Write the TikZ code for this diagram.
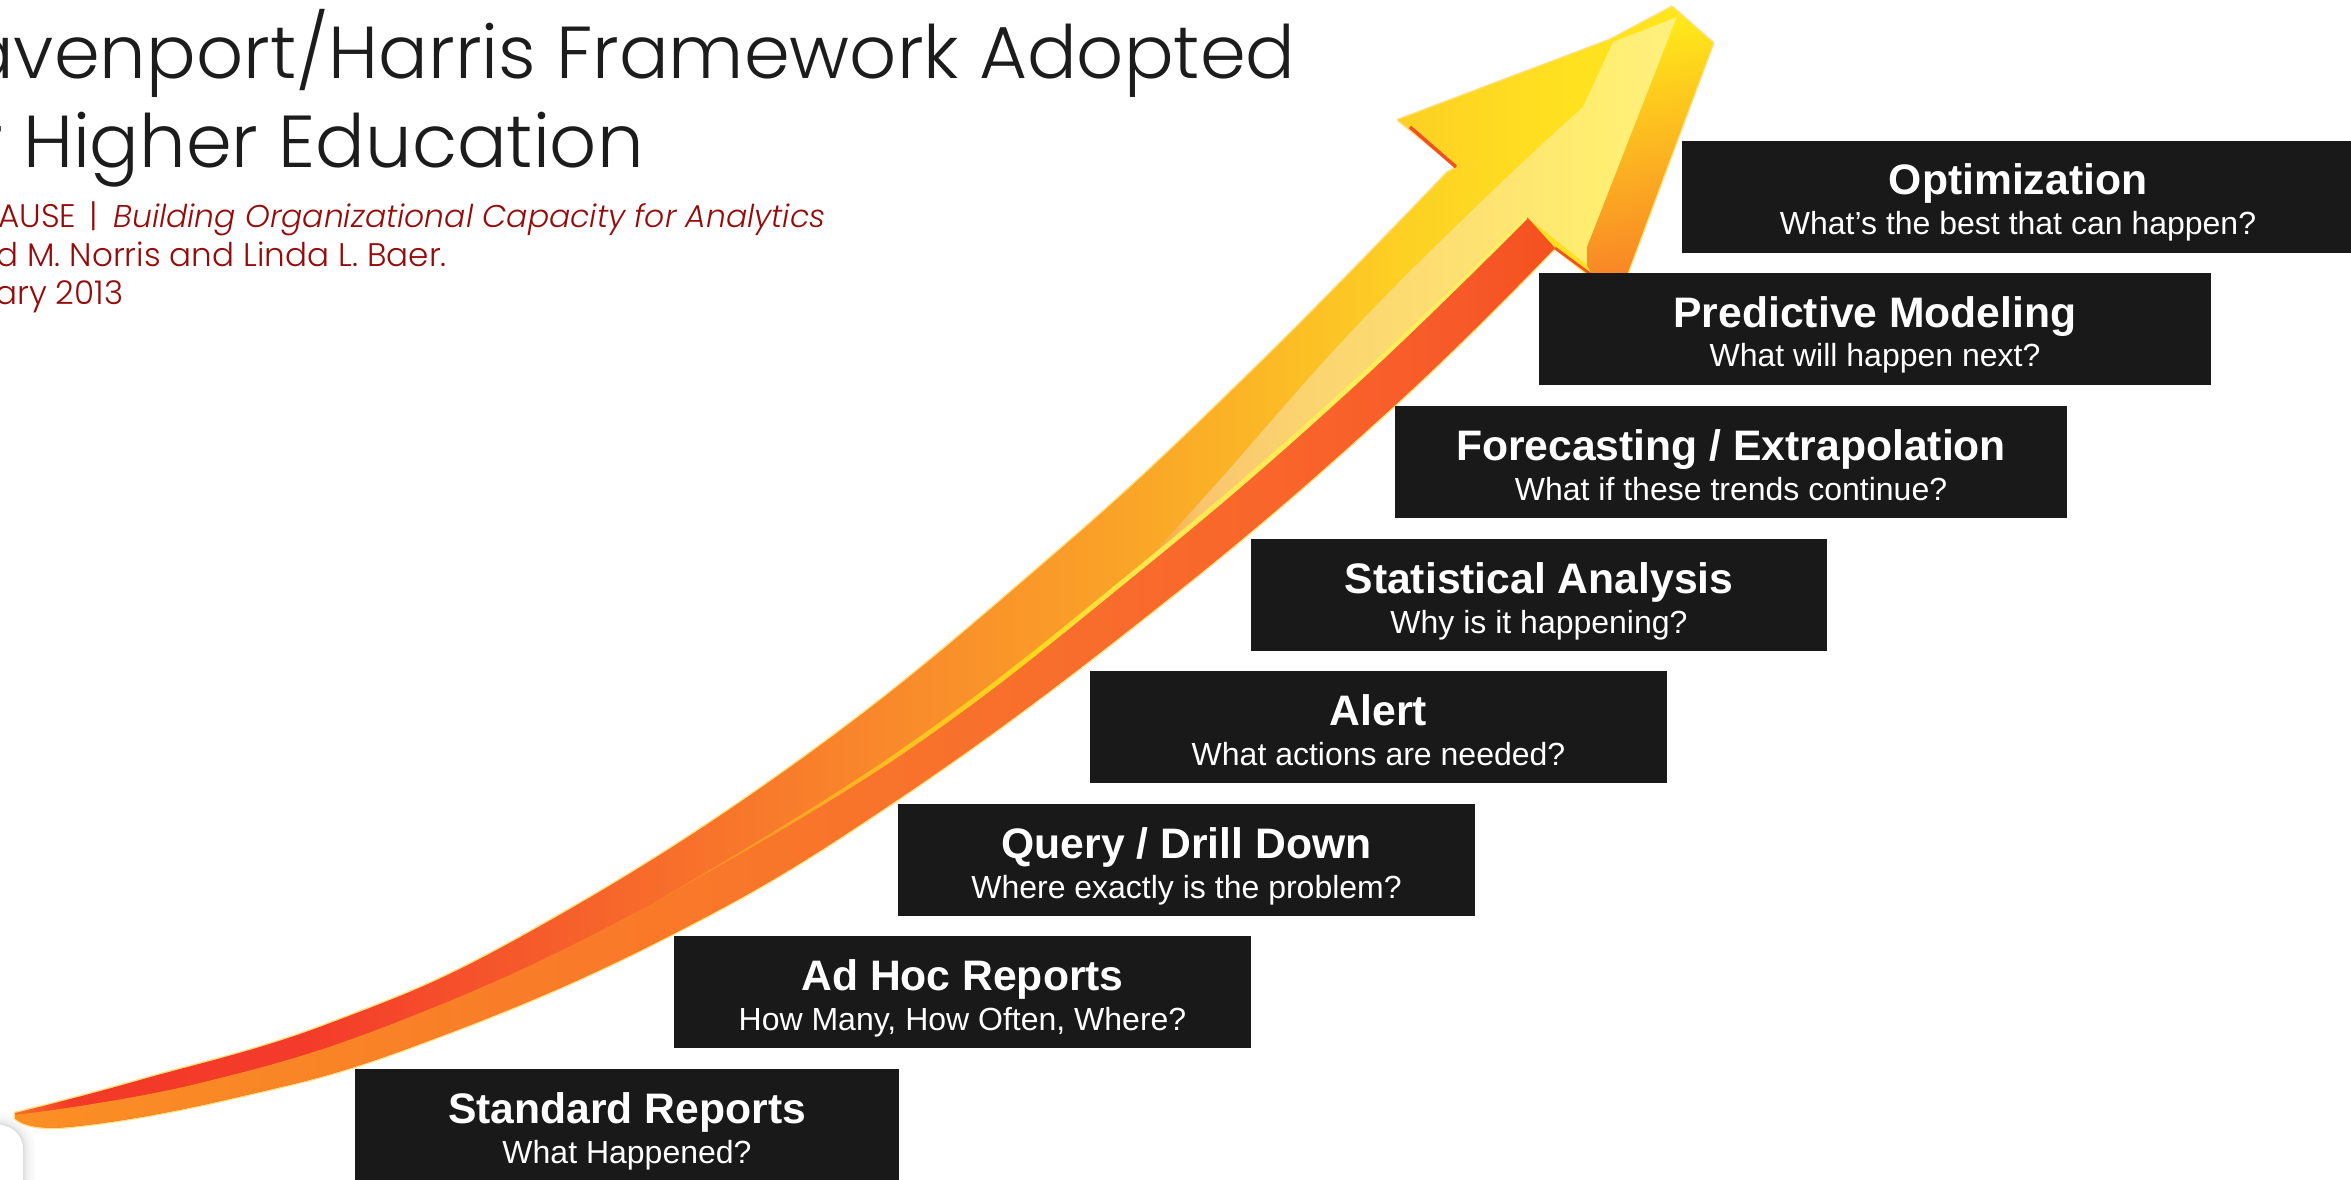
\documentclass[tikz,border=0pt]{standalone}
\usepackage{fontspec}
\setmainfont{Liberation Sans}
\newfontfamily\gothic[ItalicFont={Poppins Light Italic}]{Poppins Light}
\definecolor{boxblack}{HTML}{1A1919}
\definecolor{titleink}{HTML}{1C1C1C}
\definecolor{subink}{HTML}{960A0A}
\definecolor{fringe}{HTML}{FFDF80}
\definecolor{uA}{HTML}{F8702A}\definecolor{uB}{HTML}{F33A28}\definecolor{uC}{HTML}{F43A2A}
\definecolor{uD}{HTML}{F5562B}\definecolor{uE}{HTML}{F8722B}\definecolor{uF}{HTML}{F98A2B}
\definecolor{uG}{HTML}{FAA028}\definecolor{uH}{HTML}{FBB626}\definecolor{uI}{HTML}{FDD024}
\definecolor{uJ}{HTML}{FFE020}\definecolor{uK}{HTML}{FFE81A}
\definecolor{lA}{HTML}{FB8F24}\definecolor{lB}{HTML}{F98526}\definecolor{lC}{HTML}{F97D28}
\definecolor{lD}{HTML}{F8702C}\definecolor{lE}{HTML}{F9642B}\definecolor{lF}{HTML}{F75A29}
\definecolor{lG}{HTML}{F4501F}
\definecolor{hA}{HTML}{FBA63A}\definecolor{hB}{HTML}{F9C56F}\definecolor{hC}{HTML}{FBD36F}
\definecolor{hD}{HTML}{FDDF72}\definecolor{hE}{HTML}{FFEE70}\definecolor{hF}{HTML}{FFF080}
\definecolor{sA}{HTML}{F97D28}\definecolor{sB}{HTML}{FB9A24}\definecolor{sC}{HTML}{FFC020}
\definecolor{sD}{HTML}{FFD81E}\definecolor{sE}{HTML}{FFE850}\definecolor{sF}{HTML}{FFF060}
\pgfdeclarehorizontalshading{upperband}{100bp}{color(0bp)=(uA);color(25.3bp)=(uA);color(26.5bp)=(uB);color(31.4bp)=(uC);color(35.6bp)=(uD);color(39.9bp)=(uE);color(44.1bp)=(uF);color(48.4bp)=(uG);color(51.6bp)=(uH);color(54.8bp)=(uI);color(58bp)=(uJ);color(61.6bp)=(uK);color(100bp)=(uK)}
\pgfdeclarehorizontalshading{lowerband}{100bp}{color(0bp)=(lA);color(25.3bp)=(lA);color(31.4bp)=(lB);color(35.6bp)=(lC);color(46.3bp)=(lD);color(52.6bp)=(lE);color(55.8bp)=(lF);color(58.2bp)=(lG);color(100bp)=(lG)}
\pgfdeclarehorizontalshading{paleband}{100bp}{color(0bp)=(hA);color(49.5bp)=(hA);color(50.5bp)=(hB);color(52.6bp)=(hC);color(55.8bp)=(hD);color(59bp)=(hE);color(60.7bp)=(hF);color(100bp)=(hF)}
\pgfdeclarehorizontalshading{seamband}{100bp}{color(0bp)=(sA);color(38bp)=(sA);color(41bp)=(sB);color(44.1bp)=(sC);color(46.9bp)=(sD);color(49.5bp)=(sE);color(56.9bp)=(sF);color(100bp)=(sF)}
\newcommand{\gradfill}[2]{\begin{scope}\clip #1;\shade[shading=#2] (0,0) rectangle (2351,1180);\end{scope}}
% one box: fixed height, two centred lines on fixed baselines
\newcommand{\steptext}[3]{\vbox to 84pt{\hsize=#1\parindent=0pt\parskip=0pt\offinterlineskip
  \hbox to \hsize{\hss\fontsize{32pt}{32pt}\selectfont\bfseries\rule{0pt}{40.5pt}\smash{#2}\hss}\vskip0pt
  \hbox to \hsize{\hss\fontsize{24pt}{24pt}\selectfont\rule[-13.5pt]{0pt}{43.5pt}#3\hss}\vss}}
\tikzset{
  stepbox/.style={fill=boxblack,text=white,inner sep=0pt,outer sep=0pt,anchor=north west},
  titletext/.style={anchor=base west,inner sep=0pt,text=titleink,font=\gothic\fontsize{55.2pt}{60pt}\selectfont},
  subtext/.style={anchor=base west,inner sep=0pt,text=subink,font=\gothic\fontsize{24.5pt}{28pt}\selectfont}
}
\begin{document}
\begin{tikzpicture}[x=0.75pt,y=-0.75pt]
\useasboundingbox (0,0) rectangle (2351,1180);
% panel corner with soft shadow, lower left
\foreach \w/\c in {24/2,18/3,13/5,9/7,5/10,2/14}{
  \draw[line width=\w*0.75pt,black!\c] (-5,1124) .. controls (12,1125) and (23,1134) .. (23,1150) -- (23,1185);
}
\fill[white] (-5,1124) .. controls (12,1125) and (23,1134) .. (23,1150) -- (23,1185) -- (-5,1185) -- cycle;
% arrow: fringe
\draw[fringe,line width=2.2pt,line join=round] plot[smooth,tension=.7] coordinates {(15,1113)(140,1080)(333,1022)(533,930)(800,760)(1050,558)(1250,373)(1447,173)} -- (1457,167) -- (1398,120) -- (1610,40) -- (1672,7) -- (1713,43) -- (1625,280) -- (1595,280) -- (1555,248) -- plot[smooth,tension=.7] coordinates {(1555,248)(1393,407)(1167,600)(900,798)(667,937)(417,1045)(233,1098)(67,1127)(15,1118)} -- cycle;
% arrow: upper band, whole outline
\gradfill{plot[smooth,tension=.7] coordinates {(15,1113)(140,1080)(333,1022)(533,930)(800,760)(1050,558)(1250,373)(1447,173)} -- (1457,167) -- (1398,120) -- (1610,40) -- (1672,7) -- (1713,43) -- (1625,280) -- (1595,280) -- (1555,248) -- plot[smooth,tension=.7] coordinates {(1555,248)(1393,407)(1167,600)(900,798)(667,937)(417,1045)(233,1098)(67,1127)(15,1118)} -- cycle}{upperband}
% arrow: lower band
\gradfill{plot[smooth,tension=.7] coordinates {(15,1115)(200,1083)(410,1017)(653,903)(900,753)(1140,568)(1350,387)(1527,217)} -- (1555,248) -- plot[smooth,tension=.7] coordinates {(1555,248)(1393,407)(1167,600)(900,798)(667,937)(417,1045)(233,1098)(67,1127)(15,1118)} -- cycle}{lowerband}
% arrow: pale highlight
\gradfill{plot[smooth,tension=.7] coordinates {(1140,568)(1217,483)(1350,333)(1483,200)(1583,107)} -- (1613,42) -- (1677,17) -- (1587,247) -- (1587,265) -- (1527,217) -- plot[smooth,tension=.7] coordinates {(1527,217)(1350,387)(1140,568)} -- cycle}{paleband}
% arrow: right facet
\shade[top color=uK,middle color=uH,bottom color=lB,shading angle=12] (1677,17) -- (1713,43) -- (1625,280) -- (1595,280) -- (1587,265) -- (1587,247) -- cycle;
% arrow: thin light seam, tapering out towards the tail
\gradfill{plot[smooth,tension=.7] coordinates {(653,903)(899,751)(1138.6,566)(1348.6,385)(1527,215)} -- plot[smooth,tension=.7] coordinates {(1527,219)(1351.4,389)(1141.4,570)(901,755)(653,903)} -- cycle}{seamband}
% arrow: red barb edges
\draw[lG,line width=2.6pt] (1410,127) -- (1456,167);
\draw[lG,line width=2pt] (1555,248) -- (1593,276);
% steps
\node[stepbox] (standard) at (355,1069) {\steptext{408pt}{Standard Reports}{What Happened?}};
\node[stepbox] (adhoc) at (674,936) {\steptext{432.75pt}{Ad Hoc Reports}{How Many, How Often, Where?}};
\node[stepbox] (query) at (898,804) {\steptext{432.75pt}{Query / Drill Down}{Where exactly is the problem?}};
\node[stepbox] (alert) at (1090,671) {\steptext{432.75pt}{Alert}{What actions are needed?}};
\node[stepbox] (stat) at (1251,539) {\steptext{432pt}{Statistical Analysis}{Why is it happening?}};
\node[stepbox] (fore) at (1395,406) {\steptext{504pt}{Forecasting / Extrapolation}{What if these trends continue?}};
\node[stepbox] (pred) at (1539,273) {\steptext{504pt}{Predictive Modeling}{What will happen next?}};
\node[stepbox] (opt) at (1682,141) {\steptext{504pt}{Optimization}{What’s the best that can happen?}};
% titles
\node[titletext] (t1) at (-36,79) {avenport/Harris Framework Adopted};
\node[titletext] (t2) at (-24,168) {r Higher Education};
\node[subtext] (s1) at (-2,228) {AUSE\hspace{3pt} | \hspace{5pt}{\fontsize{23.6pt}{28pt}\selectfont\itshape Building Organizational Capacity for Analytics}};
\node[subtext] (s2) at (-4,267) {d M. Norris and Linda L. Baer.};
\node[subtext] (s3) at (-5,305) {ary 2013};
\end{tikzpicture}
\end{document}
